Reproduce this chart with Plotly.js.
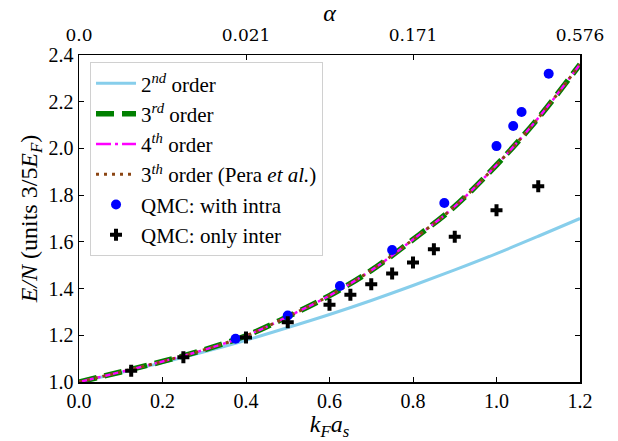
<!DOCTYPE html>
<html>
<head>
<meta charset="utf-8">
<script src="https://cdn.plot.ly/plotly-3.0.1.min.js"></script>
<style>
html,body{margin:0;padding:0;background:#fff;}
#chart{width:618px;height:441px;}
</style>
</head>
<body>
<div id="chart"></div>
<script>
// kF*a_s grid for the perturbative curves
const kfa = [0.0, 0.1, 0.2, 0.3, 0.4, 0.5, 0.6, 0.7, 0.8, 0.9, 1.0, 1.1, 1.2];
const order2 = [1.000, 1.040, 1.083, 1.129, 1.179, 1.233, 1.289, 1.349, 1.413, 1.480, 1.550, 1.624, 1.700];
const order3 = [1.000, 1.043, 1.088, 1.138, 1.198, 1.280, 1.370, 1.478, 1.610, 1.752, 1.929, 2.130, 2.360];
const order4 = [1.000, 1.043, 1.088, 1.138, 1.198, 1.280, 1.370, 1.478, 1.610, 1.752, 1.929, 2.130, 2.360];
const order3Pera = [1.000, 1.043, 1.088, 1.138, 1.198, 1.280, 1.370, 1.478, 1.610, 1.752, 1.929, 2.130, 2.360];

// QMC data
const qmcIntraX = [0.375, 0.5, 0.625, 0.75, 0.875, 1.0, 1.04, 1.06, 1.125];
const qmcIntraY = [1.185, 1.285, 1.411, 1.565, 1.766, 2.010, 2.096, 2.156, 2.320];
const qmcInterX = [0.125, 0.25, 0.4, 0.5, 0.6, 0.65, 0.7, 0.75, 0.8, 0.85, 0.9, 1.0, 1.1];
const qmcInterY = [1.048, 1.106, 1.190, 1.256, 1.331, 1.374, 1.418, 1.465, 1.512, 1.568, 1.622, 1.735, 1.838];

// top axis (alpha)
const alphaTickPos = [0.0, 0.4, 0.8, 1.2];
const alphaTickText = ['0.0', '0.021', '0.171', '0.576'];

const serif = 'Liberation Serif';

const traces = [
  {x: kfa, y: order2, mode: 'lines', name: '2<sup><i>nd</i></sup> order',
   line: {color: '#87CEEB', width: 3, shape: 'spline'}},
  {x: kfa, y: order3, mode: 'lines', name: '3<sup><i>rd</i></sup> order',
   line: {color: '#008000', width: 5.5, dash: '18px,8px', shape: 'spline'}},
  {x: kfa, y: order4, mode: 'lines', name: '4<sup><i>th</i></sup> order',
   line: {color: '#FF00FF', width: 2.5, dash: '15px,4px,3px,4px', shape: 'spline'}},
  {x: kfa, y: order3Pera, mode: 'lines', name: '3<sup><i>th</i></sup> order (Pera <i>et al.</i>)',
   line: {color: '#8B4513', width: 3, dash: '3px,5px', shape: 'spline'}},
  {x: qmcIntraX, y: qmcIntraY, mode: 'markers', name: 'QMC: with intra',
   marker: {color: '#0000FF', size: 10, symbol: 'circle'}},
  {x: qmcInterX, y: qmcInterY, mode: 'markers', name: 'QMC: only inter',
   marker: {color: '#000000', size: 10, symbol: 'cross'}},
  {x: alphaTickPos, y: [null, null, null, null], xaxis: 'x2', mode: 'markers',
   showlegend: false, hoverinfo: 'skip'}
];

const layout = {
  width: 618, height: 441,
  margin: {l: 79, r: 38, t: 55, b: 59},
  paper_bgcolor: '#fff', plot_bgcolor: '#fff',
  showlegend: true,
  font: {family: serif, color: '#000', size: 20},
  xaxis: {
    range: [0, 1.2], dtick: 0.2, tick0: 0, tickformat: '.1f',
    ticks: 'inside', ticklen: 5, tickwidth: 1, tickcolor: '#000',
    showline: true, linecolor: '#000', linewidth: 1.5, mirror: true,
    showgrid: false, zeroline: false,
    tickfont: {family: serif, size: 20},
    title: {text: '<i>k<sub>F</sub>a<sub>s</sub></i>', font: {family: serif, size: 24}, standoff: 1}
  },
  xaxis2: {
    overlaying: 'x', side: 'top', range: [0, 1.2],
    tickmode: 'array', tickvals: alphaTickPos, ticktext: alphaTickText,
    ticks: 'inside', ticklen: 5, tickcolor: '#000', ticklabelstandoff: 10,
    showline: false, showgrid: false, zeroline: false,
    tickfont: {family: 'DejaVu Serif', size: 17},
    title: {text: '<i>α</i>', font: {family: serif, size: 24}, standoff: 0}
  },
  yaxis: {
    range: [1.0, 2.4], dtick: 0.2, tick0: 1.0, tickformat: '.1f',
    ticks: 'inside', ticklen: 5, tickwidth: 1, tickcolor: '#000',
    showline: true, linecolor: '#000', linewidth: 1.5, mirror: 'ticks',
    showgrid: false, zeroline: false,
    tickfont: {family: serif, size: 20},
    title: {text: '<i>E/N</i> (units 3/5<i>E<sub>F</sub></i>)', font: {family: serif, size: 24}, standoff: 4}
  },
  legend: {
    x: 0.022, y: 0.978, xanchor: 'left', yanchor: 'top',
    bgcolor: 'rgba(255,255,255,0.85)', bordercolor: '#d0d0d0', borderwidth: 1,
    font: {family: serif, size: 21, color: '#000'},
    tracegroupgap: 0, itemwidth: 40
  }
};

Plotly.newPlot('chart', traces, layout, {displayModeBar: false, staticPlot: true});
</script>
</body>
</html>
